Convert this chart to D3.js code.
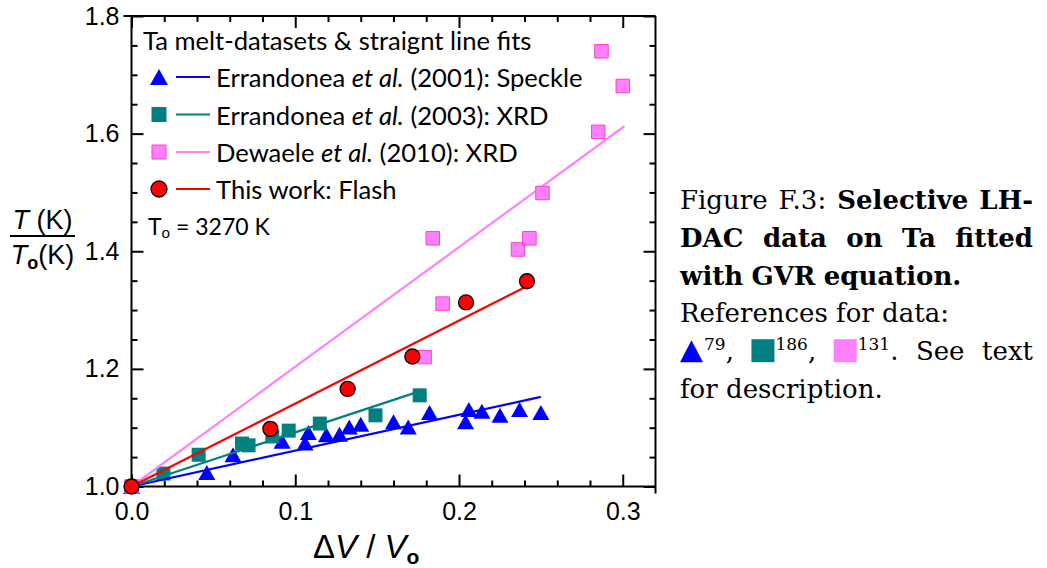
<!DOCTYPE html>
<html>
<head>
<meta charset="utf-8">
<script src="https://cdn.jsdelivr.net/npm/d3@7"></script>
<style>
  body { margin: 0; background: #fff; }
  svg { display: block; }
</style>
</head>
<body>
<svg id="fig" width="1047" height="568"></svg>
<script>
// ---- Ta melting data: reduced temperature T/T0 versus relative volume change ΔV/V0 ----
const speckleX = [0, 0.046, 0.062, 0.092, 0.106, 0.108, 0.119, 0.127, 0.133, 0.140, 0.160, 0.169, 0.182, 0.204, 0.206, 0.214, 0.225, 0.237, 0.250];
const speckleY = [1.000, 1.024, 1.054, 1.077, 1.074, 1.092, 1.088, 1.089, 1.101, 1.106, 1.110, 1.101, 1.126, 1.110, 1.131, 1.128, 1.121, 1.131, 1.126];

const xrd2003X = [0, 0.0195, 0.041, 0.0675, 0.0715, 0.086, 0.096, 0.115, 0.149, 0.176];
const xrd2003Y = [1.000, 1.022, 1.054, 1.073, 1.070, 1.085, 1.095, 1.107, 1.121, 1.155];

const dewaeleX = [0, 0.179, 0.190, 0.184, 0.236, 0.243, 0.251, 0.285, 0.287, 0.300];
const dewaeleY = [1.000, 1.220, 1.311, 1.422, 1.403, 1.422, 1.499, 1.603, 1.740, 1.681];

const flashX = [0, 0.0848, 0.132, 0.1715, 0.2043, 0.2415];
const flashY = [1.000, 1.098, 1.166, 1.221, 1.313, 1.349];

// straight-line fits through (0, 1): slope and end of each fitted line
const fitSlope = [0.61, 0.92, 2.035, 1.41];
const fitXEnd  = [0.250, 0.173, 0.301, 0.2415];

const seriesColor = ["#0000ff", "#008080", "#ff80ff", "#ff0000"];

const xTicks = [0, 0.1, 0.2, 0.3];
const xTickLabels = ["0.0", "0.1", "0.2", "0.3"];
const yTicks = [1.0, 1.2, 1.4, 1.6, 1.8];
const yTickLabels = ["1.0", "1.2", "1.4", "1.6", "1.8"];

const legendTitle = "Ta melt-datasets & straignt line fits";
const legendEntries = [
  { pre: "Errandonea ", it: "et al.", post: " (2001): Speckle" },
  { pre: "Errandonea ", it: "et al.", post: " (2003): XRD" },
  { pre: "Dewaele ",    it: "et al.", post: " (2010): XRD" },
  { pre: "This work: Flash", it: "", post: "" }
];

// ---- scales ----
const svg = d3.select("#fig");
const x = d3.scaleLinear().domain([0, 0.32]).range([131.5, 655.5]);
const y = d3.scaleLinear().domain([1.0, 1.8]).range([486.5, 16]);

const SANS = "'Liberation Sans', Arial, sans-serif";
const LEG = "Lato, 'Open Sans', sans-serif";
const SERIF = "'DejaVu Serif', serif";

// ---- axes ----
const xMinor = d3.range(1, 16).map(i => i * 0.02).filter(v => Math.abs(v * 10 - Math.round(v * 10)) > 1e-6);
const yMinor = d3.range(1, 16).map(i => 1 + i * 0.05).filter(v => Math.abs(v * 5 - Math.round(v * 5)) > 1e-6);

function styleAxis(g) {
  g.select(".domain").remove();
  g.selectAll(".tick line").attr("stroke", "#000").attr("stroke-width", 2);
  g.selectAll(".tick text").attr("font-family", SANS).attr("font-size", 25).attr("fill", "#000");
}

svg.append("g").attr("transform", `translate(0,${y(1.0)})`)
  .call(d3.axisBottom(x).tickValues(xTicks).tickSize(-12).tickSizeOuter(0).tickPadding(16)
    .tickFormat((d, i) => xTickLabels[i])).call(styleAxis);
svg.append("g").attr("transform", `translate(0,${y(1.0)})`)
  .call(d3.axisBottom(x).tickValues(xMinor).tickSize(-6).tickSizeOuter(0).tickFormat("")).call(styleAxis);
svg.append("g").attr("transform", `translate(0,${y(1.8)})`)
  .call(d3.axisTop(x).tickValues(xTicks).tickSize(-12).tickSizeOuter(0).tickFormat("")).call(styleAxis);
svg.append("g").attr("transform", `translate(0,${y(1.8)})`)
  .call(d3.axisTop(x).tickValues(xMinor).tickSize(-6).tickSizeOuter(0).tickFormat("")).call(styleAxis);

svg.append("g").attr("transform", `translate(${x(0)},0)`)
  .call(d3.axisLeft(y).tickValues(yTicks).tickSize(-12).tickSizeOuter(0).tickPadding(12)
    .tickFormat((d, i) => yTickLabels[i])).call(styleAxis);
svg.append("g").attr("transform", `translate(${x(0)},0)`)
  .call(d3.axisLeft(y).tickValues(yMinor).tickSize(-6).tickSizeOuter(0).tickFormat("")).call(styleAxis);
svg.append("g").attr("transform", `translate(${x(0.32)},0)`)
  .call(d3.axisRight(y).tickValues(yTicks).tickSize(-12).tickSizeOuter(0).tickFormat("")).call(styleAxis);
svg.append("g").attr("transform", `translate(${x(0.32)},0)`)
  .call(d3.axisRight(y).tickValues(yMinor).tickSize(-6).tickSizeOuter(0).tickFormat("")).call(styleAxis);

// frame
const frame = svg.append("g").attr("stroke", "#000").attr("stroke-width", 2).attr("fill", "none");
frame.append("line").attr("x1", x(0)).attr("x2", x(0)).attr("y1", y(1.8)).attr("y2", y(1.0));
frame.append("line").attr("x1", x(0)).attr("x2", x(0.32)).attr("y1", y(1.0)).attr("y2", y(1.0));
frame.append("line").attr("x1", x(0) - 8).attr("x2", x(0.32)).attr("y1", y(1.8)).attr("y2", y(1.8));
frame.append("line").attr("x1", x(0.32)).attr("x2", x(0.32)).attr("y1", y(1.8)).attr("y2", y(1.0) + 7);

// ---- marker shapes ----
const triPath = (w, h) => `M0,${-h / 2}L${w / 2},${h / 2}L${-w / 2},${h / 2}Z`;
const sqPath = s => `M${-s / 2},${-s / 2}h${s}v${s}h${-s}Z`;

function fitLine(i) {
  const pts = [0, fitXEnd[i]].map(v => [x(v), y(1 + fitSlope[i] * v)]);
  svg.append("path").attr("d", d3.line()(pts))
    .attr("stroke", seriesColor[i]).attr("stroke-width", 2.2).attr("fill", "none");
}
const zip = (xs, ys) => xs.map((v, k) => [v, ys[k]]);

const plot = svg.append("g");
// Errandonea 2001 (speckle): triangles
plot.append("g").selectAll("path").data(zip(speckleX, speckleY)).join("path")
  .attr("transform", d => `translate(${x(d[0])},${y(d[1])})`)
  .attr("d", triPath(17, 15)).attr("fill", seriesColor[0]);
fitLine(0);
// Errandonea 2003 (XRD): teal squares
fitLine(1);
plot.append("g").selectAll("path").data(zip(xrd2003X, xrd2003Y)).join("path")
  .attr("transform", d => `translate(${x(d[0])},${y(d[1])})`)
  .attr("d", sqPath(14)).attr("fill", seriesColor[1]);
// Dewaele 2010 (XRD): pink squares
fitLine(2);
svg.append("g").selectAll("path").data(zip(dewaeleX, dewaeleY)).join("path")
  .attr("transform", d => `translate(${x(d[0])},${y(d[1])})`)
  .attr("d", sqPath(13.5)).attr("fill", seriesColor[2]).attr("stroke", "#ff40c0").attr("stroke-width", 1);
// this work: flash, red circles
fitLine(3);
svg.append("g").selectAll("circle").data(zip(flashX, flashY)).join("circle")
  .attr("cx", d => x(d[0])).attr("cy", d => y(d[1])).attr("r", 7.5)
  .attr("fill", seriesColor[3]).attr("stroke", "#000").attr("stroke-width", 1.3);

// ---- legend ----
const leg = svg.append("g").attr("font-family", LEG).attr("font-size", 25.6).attr("fill", "#000");
leg.append("text").attr("x", 143).attr("y", 50).text(legendTitle);
const rowY = [77, 114.5, 152, 189];
const legendMarkers = [
  g => g.append("path").attr("d", triPath(18, 16)).attr("fill", seriesColor[0]),
  g => g.append("path").attr("d", sqPath(15)).attr("fill", seriesColor[1]),
  g => g.append("path").attr("d", sqPath(14)).attr("fill", seriesColor[2]).attr("stroke", "#ff40c0"),
  g => g.append("circle").attr("r", 8).attr("fill", seriesColor[3]).attr("stroke", "#000").attr("stroke-width", 1.3)
];
legendEntries.forEach((e, i) => {
  const g = leg.append("g").attr("transform", `translate(0,${rowY[i]})`);
  legendMarkers[i](g.append("g").attr("transform", "translate(159,0)"));
  g.append("line").attr("x1", 176).attr("x2", 210).attr("stroke", seriesColor[i]).attr("stroke-width", 2.2);
  const t = g.append("text").attr("x", 216).attr("y", 10);
  t.append("tspan").text(e.pre);
  if (e.it) t.append("tspan").attr("font-style", "italic").text(e.it);
  if (e.post) t.append("tspan").text(e.post);
});
const t0 = leg.append("text").attr("x", 148).attr("y", 235).attr("font-size", 23);
t0.append("tspan").text("T");
t0.append("tspan").attr("font-size", 15).attr("dy", 3).text("o");
t0.append("tspan").attr("dy", -3).text(" = 3270 K");

// ---- axis titles ----
const yl = svg.append("g").attr("font-family", SANS).attr("font-size", 27).attr("fill", "#000");
const num = yl.append("text").attr("x", 42.5).attr("y", 229).attr("text-anchor", "middle");
num.append("tspan").attr("font-style", "italic").text("T");
num.append("tspan").text(" (K)");
yl.append("line").attr("x1", 10).attr("x2", 75).attr("y1", 236).attr("y2", 236).attr("stroke", "#000").attr("stroke-width", 2);
const den = yl.append("text").attr("x", 42.5).attr("y", 264).attr("text-anchor", "middle");
den.append("tspan").attr("font-style", "italic").text("T");
den.append("tspan").attr("font-size", 18).attr("font-weight", "bold").attr("dy", 5).text("o");
den.append("tspan").attr("dy", -5).text("(K)");

const xl = svg.append("text").attr("x", 313).attr("y", 558).attr("font-family", SANS).attr("font-size", 33).attr("fill", "#000");
xl.append("tspan").text("\u0394");
xl.append("tspan").attr("font-style", "italic").text("V");
xl.append("tspan").text(" / ");
xl.append("tspan").attr("font-style", "italic").text("V");
xl.append("tspan").attr("font-size", 21).attr("font-weight", "bold").attr("dy", 6).text("o");

// ---- caption (justified block) ----
const cap = svg.append("g").attr("font-family", SERIF).attr("font-size", 26).attr("fill", "#000");
const capLeft = 680, capRight = 1033;
const capBase = [209, 246.8, 284.6, 322.4, 360.2, 398];
const W_ = (s, b) => [{ s, b }];
const capLines = [
  { justify: true,  words: [W_("Figure"), W_("F.3:"), W_("Selective", 1), W_("LH-", 1)] },
  { justify: true,  words: ["DAC", "data", "on", "Ta", "fitted"].map(s => W_(s, 1)) },
  { justify: false, words: ["with", "GVR", "equation."].map(s => W_(s, 1)) },
  { justify: false, words: ["References", "for", "data:"].map(s => W_(s)) },
  { justify: true,  words: [
      [{ sym: "tri", c: seriesColor[0] }, { s: "79", sup: 1 }, { s: "," }],
      [{ sym: "sq", c: seriesColor[1] }, { s: "186", sup: 1 }, { s: "," }],
      [{ sym: "sq", c: seriesColor[2] }, { s: "131", sup: 1 }, { s: "." }],
      W_("See"), W_("text")] },
  { justify: false, words: ["for", "description."].map(s => W_(s)) }
];
function drawPart(g, p, px, base) {
  if (p.sym) {
    const s = g.append("path").attr("fill", p.c);
    if (p.sym === "tri") s.attr("d", `M${px + 11.5},${base - 20}L${px + 23},${base + 2}L${px},${base + 2}Z`);
    else s.attr("d", `M${px},${base - 21}h23v23h-23Z`);
    return 24;
  }
  const t = g.append("text").attr("x", px).attr("y", p.sup ? base - 10 : base).text(p.s);
  if (p.b) t.attr("font-weight", "bold");
  if (p.sup) t.attr("font-size", 17);
  return t.node().getComputedTextLength();
}
const spaceW = (() => { const t = cap.append("text").text("a a"); const w3 = t.node().getComputedTextLength();
  t.text("aa"); const w2 = t.node().getComputedTextLength(); t.remove(); return w3 - w2; })();
capLines.forEach((ln, li) => {
  const base = capBase[li];
  const groups = ln.words.map(word => {
    const g = cap.append("g");
    let px = 0;
    word.forEach(p => { px += drawPart(g, p, px, base); });
    return { g, w: px };
  });
  const total = d3.sum(groups, d => d.w);
  let gap = ln.justify && groups.length > 1 ? (capRight - capLeft - total) / (groups.length - 1) : spaceW;
  gap = Math.max(gap, spaceW * 0.6);
  let cx = capLeft;
  groups.forEach(d => { d.g.attr("transform", `translate(${cx},0)`); cx += d.w + gap; });
});
</script>
</body>
</html>
